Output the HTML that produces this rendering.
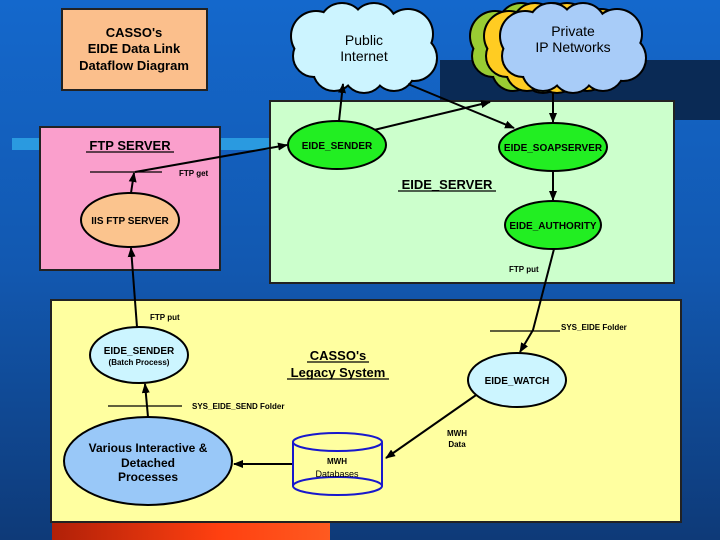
<!DOCTYPE html>
<html><head><meta charset="utf-8"><style>
html,body{margin:0;padding:0;width:720px;height:540px;overflow:hidden}
svg{display:block}
text{font-family:"Liberation Sans",Arial,sans-serif;font-weight:bold;fill:#000}
text.n{font-weight:normal}
</style></head><body>
<svg width="720" height="540" viewBox="0 0 720 540" xmlns="http://www.w3.org/2000/svg">
<defs>
<linearGradient id="bg" x1="0" y1="0" x2="0" y2="1">
<stop offset="0" stop-color="#1468cc"/><stop offset="0.5" stop-color="#1258b0"/><stop offset="1" stop-color="#0e3a78"/>
</linearGradient>
<linearGradient id="red" x1="0" y1="0" x2="1" y2="0">
<stop offset="0" stop-color="#b02008"/><stop offset="0.6" stop-color="#ff4010"/><stop offset="1" stop-color="#ff5a20"/>
</linearGradient>
<marker id="a" markerWidth="10" markerHeight="8" refX="9" refY="4" orient="auto" markerUnits="userSpaceOnUse">
<path d="M0,0 L10,4 L0,8 Z" fill="#000"/></marker>
<g id="cloud">
<circle cx="-48" cy="-12" r="24"/><circle cx="-22" cy="-22" r="22"/><circle cx="10" cy="-22" r="22"/>
<circle cx="44" cy="-14" r="24"/><circle cx="50" cy="10" r="22"/><circle cx="30" cy="22" r="20"/>
<circle cx="0" cy="24" r="20"/><circle cx="-30" cy="22" r="20"/><circle cx="-50" cy="8" r="20"/>
<ellipse cx="0" cy="0" rx="55" ry="30"/>
</g>
</defs>
<rect width="720" height="540" fill="url(#bg)"/>
<rect x="440" y="60" width="280" height="60" fill="#0a2a55"/>
<rect x="12" y="138" width="258" height="12" fill="#2a9ae0"/>
<rect x="52" y="522" width="278" height="18" fill="url(#red)"/>

<rect x="62" y="9" width="145" height="81" fill="#fbbf8c" stroke="#222" stroke-width="2"/>
<text x="134" y="37" font-size="13" text-anchor="middle">CASSO's</text>
<text x="134" y="53" font-size="13" text-anchor="middle">EIDE Data Link</text>
<text x="134" y="70" font-size="13" text-anchor="middle">Dataflow Diagram</text>

<rect x="40" y="127" width="180" height="143" fill="#fa9fcc" stroke="#222" stroke-width="2"/>
<rect x="270" y="101" width="404" height="182" fill="#ccffcc" stroke="#222" stroke-width="2"/>
<rect x="51" y="300" width="630" height="222" fill="#ffffa0" stroke="#222" stroke-width="2"/>

<g stroke="#000" stroke-width="4"><use href="#cloud" x="543" y="48" fill="#99cc33"/></g>
<use href="#cloud" x="543" y="48" fill="#99cc33"/>
<g stroke="#000" stroke-width="4"><use href="#cloud" x="557" y="48" fill="#ffcc22"/></g>
<use href="#cloud" x="557" y="48" fill="#ffcc22"/>
<g stroke="#000" stroke-width="4"><use href="#cloud" x="573" y="48" fill="#a8ccf8"/></g>
<use href="#cloud" x="573" y="48" fill="#a8ccf8"/>
<g stroke="#000" stroke-width="4"><use href="#cloud" x="364" y="48" fill="#ccf4ff"/></g>
<use href="#cloud" x="364" y="48" fill="#ccf4ff"/>
<text class="n" x="364" y="45" font-size="14" text-anchor="middle">Public</text>
<text class="n" x="364" y="61" font-size="14" text-anchor="middle">Internet</text>
<text class="n" x="573" y="36" font-size="14" text-anchor="middle">Private</text>
<text class="n" x="573" y="52" font-size="14" text-anchor="middle">IP Networks</text>

<g stroke="#000" stroke-width="2" fill="none">
<line x1="339" y1="121" x2="343" y2="84" marker-end="url(#a)"/>
<line x1="374" y1="130" x2="490" y2="102" marker-end="url(#a)"/>
<line x1="408" y1="84" x2="514" y2="128" marker-end="url(#a)"/>
<line x1="553" y1="93" x2="553" y2="122" marker-end="url(#a)"/>
<line x1="553" y1="171" x2="553" y2="200" marker-end="url(#a)"/>
<path d="M554,249 L533,330 L520,352" marker-end="url(#a)"/>
<line x1="479" y1="393" x2="386" y2="458" marker-end="url(#a)"/>
<line x1="293" y1="464" x2="234" y2="464" marker-end="url(#a)"/>
<line x1="148" y1="417" x2="145" y2="384" marker-end="url(#a)"/>
<line x1="137" y1="327" x2="131" y2="248" marker-end="url(#a)"/>
<line x1="131" y1="193" x2="134" y2="173" marker-end="url(#a)"/>
<line x1="135" y1="172" x2="287" y2="145" marker-end="url(#a)"/>
</g>
<g stroke="#000" stroke-width="1.2">
<line x1="90" y1="172" x2="162" y2="172"/>
<line x1="490" y1="331" x2="560" y2="331"/>
<line x1="108" y1="406" x2="182" y2="406"/>
</g>

<g stroke="#000" stroke-width="2">
<ellipse cx="337" cy="145" rx="49" ry="24" fill="#22ee22"/>
<ellipse cx="553" cy="147" rx="54" ry="24" fill="#22ee22"/>
<ellipse cx="553" cy="225" rx="48" ry="24" fill="#22ee22"/>
<ellipse cx="130" cy="220" rx="49" ry="27" fill="#fbc48e"/>
<ellipse cx="139" cy="355" rx="49" ry="28" fill="#ccf5ff"/>
<ellipse cx="517" cy="380" rx="49" ry="27" fill="#ccf5ff"/>
<ellipse cx="148" cy="461" rx="84" ry="44" fill="#99c8f8"/>
</g>
<g stroke="#1818cc" stroke-width="2" fill="#ffffa0">
<path d="M293,442 L293,486 A44.5,9 0 0 0 382,486 L382,442"/>
<ellipse cx="337.5" cy="442" rx="44.5" ry="9"/>
<path d="M293,486 A44.5,9 0 0 1 382,486" fill="none"/>
</g>

<g font-size="10">
<text x="337" y="149" text-anchor="middle">EIDE_SENDER</text>
<text x="553" y="151" text-anchor="middle">EIDE_SOAPSERVER</text>
<text x="553" y="229" text-anchor="middle">EIDE_AUTHORITY</text>
<text x="130" y="224" text-anchor="middle">IIS FTP SERVER</text>
<text x="139" y="354" text-anchor="middle">EIDE_SENDER</text>
<text x="517" y="384" text-anchor="middle">EIDE_WATCH</text>
</g>
<g font-size="8">
<text x="139" y="365" text-anchor="middle">(Batch Process)</text>
<text x="179" y="176">FTP get</text>
<text x="509" y="272">FTP put</text>
<text x="150" y="320">FTP put</text>
<text x="561" y="330">SYS_EIDE Folder</text>
<text x="192" y="409">SYS_EIDE_SEND Folder</text>
<text x="457" y="436" text-anchor="middle">MWH</text>
<text x="457" y="447" text-anchor="middle">Data</text>
<text x="337" y="464" text-anchor="middle">MWH</text>
</g>
<text class="n" x="337" y="477" font-size="9" text-anchor="middle">Databases</text>
<g font-size="12" text-anchor="middle">
<text x="148" y="452">Various Interactive &amp;</text>
<text x="148" y="467">Detached</text>
<text x="148" y="481">Processes</text>
</g>
<g font-size="13">
<text x="130" y="150" text-anchor="middle">FTP SERVER</text>
<text x="447" y="189" text-anchor="middle">EIDE_SERVER</text>
<text x="338" y="360" text-anchor="middle">CASSO's</text>
<text x="338" y="377" text-anchor="middle">Legacy System</text>
</g>
<g stroke="#000" stroke-width="1.2">
<line x1="86" y1="152" x2="174" y2="152"/>
<line x1="398" y1="191" x2="496" y2="191"/>
<line x1="307" y1="362" x2="369" y2="362"/>
<line x1="287" y1="379" x2="389" y2="379"/>
</g>
</svg>
</body></html>
